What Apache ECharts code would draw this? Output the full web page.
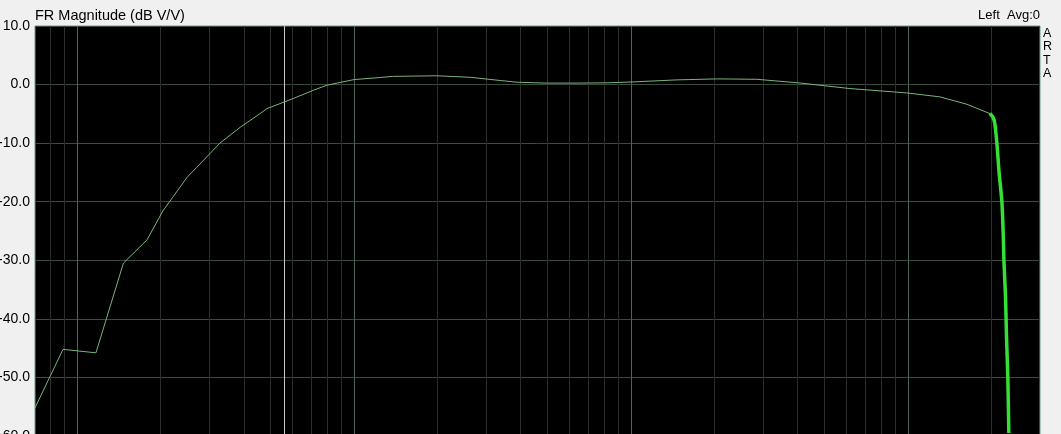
<!DOCTYPE html>
<html>
<head>
<meta charset="utf-8">
<title>FR Magnitude</title>
<script src="https://cdn.jsdelivr.net/npm/echarts@6/dist/echarts.min.js"></script>
<style>
  html, body { margin: 0; padding: 0; background: #f0f0f0; overflow: hidden; }
  #chart { width: 1061px; height: 434px; }
</style>
</head>
<body>
<div id="chart"></div>
<script>
// frequency response (Hz, dB)
var freqs = [7.05, 8.9, 11.7, 14.7, 17.9, 20.4, 25, 27.1, 32.8, 38.8, 45.8, 48.5, 60.2, 71.1, 79.9,
    100, 124, 138, 199, 262, 337, 388, 497, 638, 819, 1017, 1466, 2061, 2850, 4075, 6175, 9918,
    13050, 16330, 19770];
var levels = [-55.2, -45.2, -45.8, -30.5, -26.5, -21.6, -15.8, -14.1, -10.0, -7.3, -4.95, -4.1, -2.4, -1.0, -0.1,
    0.85, 1.2, 1.4, 1.5, 1.25, 0.7, 0.4, 0.25, 0.25, 0.3, 0.45, 0.8, 0.97, 0.9, 0.27, -0.68, -1.43,
    -2.1, -3.36, -4.95];
// steep roll-off above the knee (drawn thicker, brighter)
var rolloffFreqs = [19770, 20300, 20610, 20960, 21360, 21850, 22090, 22220, 22520, 22710, 22960, 23150];
var rolloffLevels = [-4.95, -5.6, -6.7, -10, -15.1, -20, -25.4, -30, -36.2, -43.1, -50, -59.5];

// vertical grid lines
var minorFreqs = [8, 9, 20, 30, 40, 50, 60, 70, 80, 90, 200, 300, 400, 500, 600, 700, 800, 900,
    2000, 3000, 4000, 5000, 6000, 7000, 8000, 9000, 20000];
var decadeFreqs = [10, 100, 1000, 10000];
var cursorFreq = 56;

var yTicks = [-60, -50, -40, -30, -20, -10, 0, 10];

function pairs(xs, ys) {
    var out = [];
    for (var i = 0; i < xs.length; ++i) {
        out.push([xs[i], ys[i]]);
    }
    return out;
}

var vLines = [];
minorFreqs.forEach(function (f) {
    vLines.push({ xAxis: f, lineStyle: { color: '#2c2e2c', width: 1, type: 'solid' } });
});
decadeFreqs.forEach(function (f) {
    vLines.push({ xAxis: f, lineStyle: { color: '#4a6656', width: 1, type: 'solid' } });
});
vLines.push({ xAxis: cursorFreq, lineStyle: { color: '#c8c8c8', width: 1, type: 'solid' } });

var FONT = 'Liberation Sans, Arial, sans-serif';

var myChart = echarts.init(document.getElementById('chart'));
myChart.setOption({
    backgroundColor: '#f0f0f0',
    animation: false,
    textStyle: { fontFamily: FONT },
    title: {
        text: 'FR Magnitude (dB V/V)',
        left: 30, top: 3,
        textStyle: { fontSize: 14.5, fontWeight: 'normal', color: '#000', fontFamily: FONT }
    },
    graphic: [
        {
            type: 'text', right: 21, top: 9,
            style: { text: 'Left  Avg:0', fontSize: 13, fill: '#000', fontFamily: FONT }
        },
        {
            type: 'text', left: 1043, top: 27,
            style: {
                text: 'A\nR\nT\nA', fontSize: 12.5, lineHeight: 13.3, fill: '#000', align: 'left',
                fontFamily: FONT
            }
        }
    ],
    grid: {
        left: 35, top: 26, width: 1005, height: 410,
        outerBoundsMode: 'none',
        containLabel: false,
        show: true, backgroundColor: '#000', borderColor: '#6f9c8c', borderWidth: 1
    },
    xAxis: {
        type: 'log',
        logBase: 10,
        min: 7.05,
        max: 30000,
        axisLine: { show: false },
        axisTick: { show: false },
        axisLabel: { show: false },
        splitLine: { show: false }
    },
    yAxis: {
        type: 'value',
        min: yTicks[0],
        max: yTicks[yTicks.length - 1],
        interval: 10,
        axisLine: { show: false },
        axisTick: { show: false },
        axisLabel: {
            color: '#000', fontSize: 14, margin: 5,
            formatter: function (v) { return v.toFixed(1); }
        },
        splitLine: { show: true, lineStyle: { color: '#3a4c40', width: 1 } }
    },
    series: [
        {
            name: 'grid',
            type: 'line',
            data: [],
            silent: true,
            markLine: {
                silent: true,
                symbol: ['none', 'none'],
                label: { show: false },
                data: vLines
            }
        },
        {
            name: 'FR',
            type: 'line',
            data: pairs(freqs, levels),
            showSymbol: false,
            lineStyle: { color: '#7cb47c', width: 1 },
            z: 5
        },
        {
            name: 'FR rolloff',
            type: 'line',
            data: pairs(rolloffFreqs, rolloffLevels),
            showSymbol: false,
            smooth: 0.3,
            lineStyle: { color: '#33e033', width: 3.5 },
            z: 6
        }
    ]
});
</script>
</body>
</html>
